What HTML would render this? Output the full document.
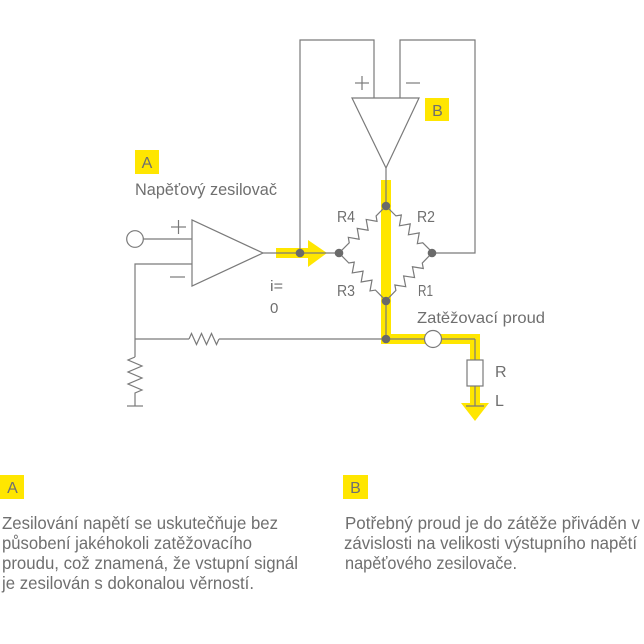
<!DOCTYPE html>
<html>
<head>
<meta charset="utf-8">
<style>
  html,body{margin:0;padding:0;background:#fff;}
  svg{display:block;}
  text{font-family:"Liberation Sans","DejaVu Sans",sans-serif;fill:#6f6f6f;}
</style>
</head>
<body>
<svg width="644" height="644" viewBox="0 0 644 644" xmlns="http://www.w3.org/2000/svg">
  <rect x="0" y="0" width="644" height="644" fill="#fff"/>

  <!-- Yellow highlights -->
  <g fill="#ffe600">
    <rect x="276" y="248" width="33" height="10"/>
    <polygon points="308,240 327,253 308,267"/>
    <rect x="381" y="180" width="10" height="164"/>
    <rect x="381" y="334" width="99" height="10"/>
    <rect x="470" y="334" width="10" height="70"/>
    <polygon points="461,403 489,403 475,421"/>
  </g>

  <!-- Wires -->
  <g stroke="#7a7a7a" stroke-width="1.2" fill="none">
    <!-- input circle + line -->
    <circle cx="135" cy="239" r="8.3" fill="#fff"/>
    <line x1="143.3" y1="239" x2="192" y2="239"/>
    <!-- minus input -->
    <polyline points="192,264 135,264 135,357"/>
    <!-- opamp A -->
    <polygon points="192,220 192,286 263,253" fill="#fff"/>
    <!-- output line to bridge -->
    <line x1="263" y1="253" x2="339" y2="253"/>
    <!-- left loop -->
    <polyline points="300,253 300,40 374,40 374,98"/>
    <!-- right loop -->
    <polyline points="400,98 400,40 475,40 475,253 432,253"/>
    <!-- opamp B -->
    <polygon points="352,98 419,98 386,168" fill="#fff"/>
    <line x1="386" y1="168" x2="386" y2="206"/>
    <line x1="386" y1="301" x2="386" y2="339"/>
    <!-- feedback horizontal -->
    <line x1="135" y1="339" x2="189" y2="339"/>
    <polyline points="189,339 191.5,333.5 196.5,344.5 201.5,333.5 206.5,344.5 211.5,333.5 216.5,344.5 219,339"/>
    <line x1="219" y1="339" x2="424.5" y2="339"/>
    <!-- vertical resistor to ground -->
    <polyline points="135,357 128,360 142,366 128,372 142,378 128,384 142,390 135,393 135,406"/>
    <line x1="127" y1="406" x2="143" y2="406"/>
    <!-- load path -->
    <line x1="441.5" y1="339" x2="475" y2="339"/>
    <line x1="475" y1="339" x2="475" y2="360"/>
    <rect x="467" y="360" width="16" height="26" fill="#fff"/>
    <line x1="475" y1="386" x2="475" y2="406"/>
    <line x1="466" y1="406" x2="484" y2="406"/>
    <circle cx="433" cy="339" r="8.5" fill="#fff"/>
    <!-- bridge resistors -->
    <g transform="translate(386,206) rotate(135)">
      <polyline points="0,0 14,0 17.2,-4.5 23.5,4.5 29.8,-4.5 36.2,4.5 42.5,-4.5 48.8,4.5 52,0 66.5,0"/>
    </g>
    <g transform="translate(386,206) rotate(45)">
      <polyline points="0,0 14,0 17.2,-4.5 23.5,4.5 29.8,-4.5 36.2,4.5 42.5,-4.5 48.8,4.5 52,0 66,0"/>
    </g>
    <g transform="translate(339,253) rotate(45.5)">
      <polyline points="0,0 14,0 17.2,-4.5 23.5,4.5 29.8,-4.5 36.2,4.5 42.5,-4.5 48.8,4.5 52,0 67,0"/>
    </g>
    <g transform="translate(432,253) rotate(134)">
      <polyline points="0,0 14,0 17.2,-4.5 23.5,4.5 29.8,-4.5 36.2,4.5 42.5,-4.5 48.8,4.5 52,0 66.5,0"/>
    </g>
    <!-- polarity marks -->
    <line x1="171" y1="227" x2="186" y2="227"/>
    <line x1="178.5" y1="220" x2="178.5" y2="234"/>
    <line x1="170" y1="277" x2="185" y2="277"/>
    <line x1="355" y1="83" x2="369" y2="83"/>
    <line x1="362" y1="76" x2="362" y2="90"/>
    <line x1="406" y1="83" x2="420" y2="83"/>
  </g>

  <!-- Nodes -->
  <g fill="#6a6a6a">
    <circle cx="300" cy="253" r="4.3"/>
    <circle cx="339" cy="253" r="4.3"/>
    <circle cx="386" cy="206" r="4.3"/>
    <circle cx="432" cy="253" r="4.3"/>
    <circle cx="386" cy="301" r="4.3"/>
    <circle cx="386" cy="339" r="4.3"/>
  </g>

  <!-- Label boxes -->
  <rect x="135" y="150" width="24" height="24" fill="#ffe600"/>
  <text x="147" y="168" font-size="16" text-anchor="middle">A</text>
  <rect x="425" y="98" width="24" height="23" fill="#ffe600"/>
  <text x="437.5" y="116" font-size="16" text-anchor="middle">B</text>

  <!-- Diagram texts -->
  <text x="135" y="195" font-size="17" textLength="142" lengthAdjust="spacingAndGlyphs">Napěťový zesilovač</text>
  <text x="270" y="291" font-size="15" textLength="13" lengthAdjust="spacingAndGlyphs">i=</text>
  <text x="270" y="313" font-size="15">0</text>
  <text x="337" y="222" font-size="16" textLength="18" lengthAdjust="spacingAndGlyphs">R4</text>
  <text x="417" y="222" font-size="16" textLength="18" lengthAdjust="spacingAndGlyphs">R2</text>
  <text x="337" y="296" font-size="16" textLength="18" lengthAdjust="spacingAndGlyphs">R3</text>
  <text x="418" y="296" font-size="16" textLength="15" lengthAdjust="spacingAndGlyphs">R1</text>
  <text x="417" y="323" font-size="16" textLength="128" lengthAdjust="spacingAndGlyphs">Zatěžovací proud</text>
  <text x="495" y="377" font-size="16">R</text>
  <text x="495" y="406" font-size="16">L</text>

  <!-- Bottom section -->
  <rect x="0" y="475" width="24" height="24" fill="#ffe600"/>
  <text x="12.5" y="493" font-size="16" text-anchor="middle">A</text>
  <rect x="343" y="475" width="25" height="24" fill="#ffe600"/>
  <text x="355.5" y="493" font-size="16" text-anchor="middle">B</text>

  <g font-size="17.5">
    <text x="2" y="529" textLength="276" lengthAdjust="spacingAndGlyphs">Zesilování napětí se uskutečňuje bez</text>
    <text x="2" y="549" textLength="250" lengthAdjust="spacingAndGlyphs">působení jakéhokoli zatěžovacího</text>
    <text x="2" y="569" textLength="296" lengthAdjust="spacingAndGlyphs">proudu, což znamená, že vstupní signál</text>
    <text x="2" y="589" textLength="252" lengthAdjust="spacingAndGlyphs">je zesilován s dokonalou věrností.</text>

    <text x="345" y="529" textLength="295" lengthAdjust="spacingAndGlyphs">Potřebný proud je do zátěže přiváděn v</text>
    <text x="344" y="549" textLength="293" lengthAdjust="spacingAndGlyphs">závislosti na velikosti výstupního napětí</text>
    <text x="345" y="569" textLength="172" lengthAdjust="spacingAndGlyphs">napěťového zesilovače.</text>
  </g>
</svg>
</body>
</html>
